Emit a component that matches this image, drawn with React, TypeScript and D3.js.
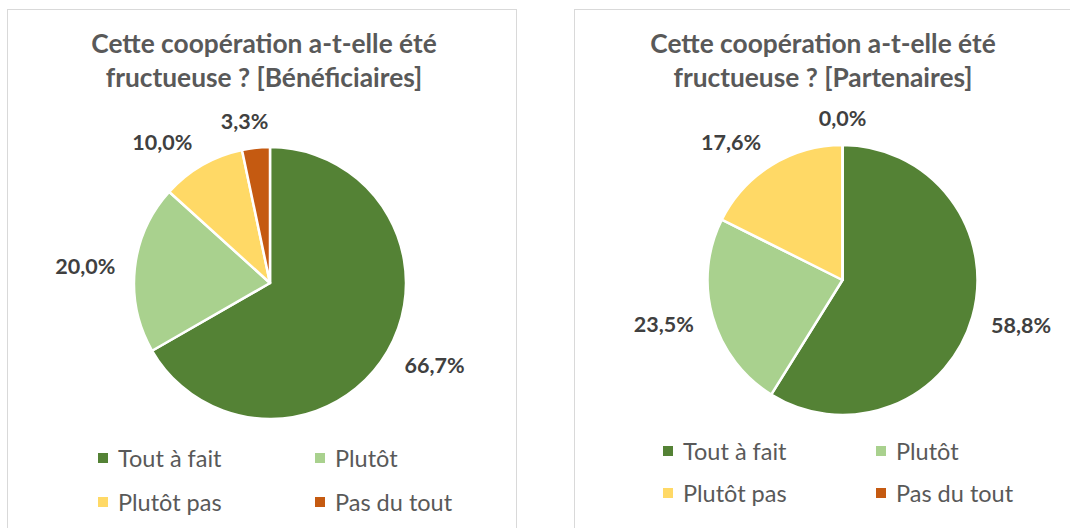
import React from "react";
import * as d3 from "d3";

const categories = ["Tout à fait", "Plutôt", "Plutôt pas", "Pas du tout"];
const colors = ["#548235", "#A9D18E", "#FFD966", "#C55A11"];
const beneficiairesValues = [66.7, 20.0, 10.0, 3.3];
const partenairesValues = [58.8, 23.5, 17.6, 0.0];
const titleLine1 = "Cette coopération a-t-elle été";
const beneficiairesTitle2 = "fructueuse ? [Bénéficiaires]";
const partenairesTitle2 = "fructueuse ? [Partenaires]";

const W = 1070;
const H = 528;

type PanelCfg = {
  x: number; y: number; w: number; h: number;
  titleX: number; title2: string;
  cx: number; cy: number; r: number;
  values: number[];
  legX: number[]; legY: number[];
};

const panels: PanelCfg[] = [
  {
    x: 7.5, y: 9.5, w: 509, h: 540,
    titleX: 264, title2: beneficiairesTitle2,
    cx: 270, cy: 283, r: 136,
    values: beneficiairesValues,
    legX: [98, 315], legY: [458, 502],
  },
  {
    x: 574.5, y: 9.5, w: 498, h: 540,
    titleX: 823, title2: partenairesTitle2,
    cx: 842.5, cy: 280, r: 135,
    values: partenairesValues,
    legX: [663, 876], legY: [451, 493],
  },
];

const fmt = (v: number) => v.toFixed(1).replace(".", ",") + "%";

function Panel({ p }: { p: PanelCfg }) {
  const pie = d3.pie<number>().sort(null).value((d) => d);
  const arcs = pie(p.values);
  const arc = d3.arc<d3.PieArcDatum<number>>().innerRadius(0).outerRadius(p.r);
  const labelW = 61;
  const labelH = 16;
  const pad = 19;
  return (
    <g>
      <rect x={p.x} y={p.y} width={p.w} height={p.h} fill="#fff" stroke="#D9D9D9" strokeWidth={1} />
      <text
        x={p.titleX}
        textAnchor="middle"
        fontFamily="Lato, 'Open Sans', sans-serif"
        fontWeight={700}
        fontSize={26.3}
        fill="#595959"
      >
        <tspan x={p.titleX} y={53}>{titleLine1}</tspan>
        <tspan x={p.titleX} y={87}>{p.title2}</tspan>
      </text>
      <g transform={`translate(${p.cx},${p.cy})`}>
        {arcs.map((a, i) => (
          <path key={i} d={arc(a) || ""} fill={colors[i]} stroke="#fff" strokeWidth={2.5} strokeLinejoin="round" />
        ))}
        {arcs.map((a, i) => {
          const mid = (a.startAngle + a.endAngle) / 2;
          const dx = Math.sin(mid);
          const dy = -Math.cos(mid);
          const gx = Math.max(-1, Math.min(1, dx * 3));
          const lx = (p.r + pad) * dx + (labelW / 2) * gx;
          const ly = (p.r + pad) * dy + (labelH / 2) * dy;
          return (
            <text
              key={"l" + i}
              x={lx}
              y={ly + labelH / 2}
              textAnchor="middle"
              fontFamily="Lato, 'Open Sans', sans-serif"
              fontWeight={700}
              fontSize={21.5}
              fill="#404040"
            >
              {fmt(p.values[i])}
            </text>
          );
        })}
      </g>
      {categories.map((c, i) => {
        const col = i % 2;
        const row = Math.floor(i / 2);
        const sx = p.legX[col];
        const sy = p.legY[row];
        return (
          <g key={"lg" + i}>
            <rect x={sx} y={sy - 5} width={10} height={10} fill={colors[i]} />
            <text
              x={sx + 20}
              y={sy + 8.5}
              fontFamily="Lato, 'Open Sans', sans-serif"
              fontSize={23.5}
              fill="#595959"
            >
              {c}
            </text>
          </g>
        );
      })}
    </g>
  );
}

export default function App() {
  return (
    <div style={{ position: "fixed", left: 0, top: 0, width: W, height: H, background: "#fff" }}>
      <svg width={W} height={H} style={{ display: "block" }}>
        <rect x={0} y={0} width={W} height={H} fill="#fff" />
        {panels.map((p, i) => (
          <Panel key={i} p={p} />
        ))}
      </svg>
    </div>
  );
}
